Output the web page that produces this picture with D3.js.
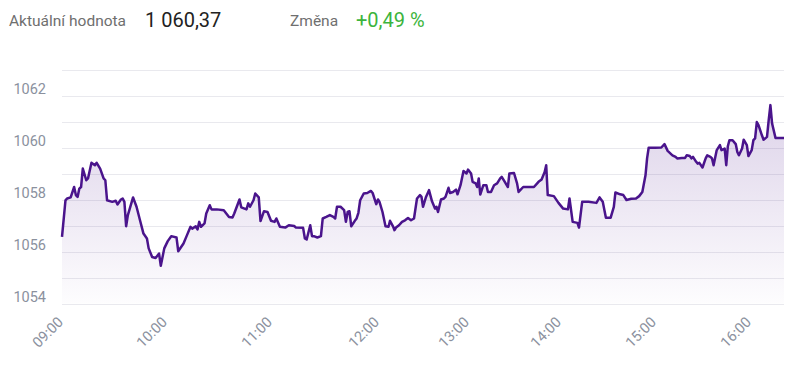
<!DOCTYPE html>
<html>
<head>
<meta charset="utf-8">
<script src="https://cdn.jsdelivr.net/npm/d3@7"></script>
<style>
  body { margin: 0; background: #fff; }
  svg { display: block; font-family: Roboto, "Open Sans", sans-serif; }
  .grid line { stroke: #e9e9ee; stroke-width: 1; }
  .ylab, .xlab { fill: #8b919e; font-size: 14.5px; }
</style>
</head>
<body>
<svg id="mainChart" width="800" height="367"></svg>
<script>
// header values
var currentLabel = "Aktuální hodnota";
var currentValue = "1 060,37";
var changeLabel = "Změna";
var changeValue = "+0,49 %";

// intraday series (time, index value)
var times = [
  "09:00","09:02","09:03","09:05","09:07","09:08","09:09","09:10","09:11","09:12","09:14","09:15","09:17","09:19","09:20","09:22","09:24","09:25","09:26","09:29","09:31","09:32","09:34","09:35","09:36","09:37","09:38","09:41","09:43","09:45","09:47","09:49","09:50","09:52","09:54","09:56","09:57","09:59",
  "10:01","10:03","10:06","10:07","10:10","10:12","10:14","10:15","10:17","10:18","10:19","10:20","10:22","10:23","10:25","10:26","10:29","10:33","10:36","10:38","10:39","10:42","10:43","10:46","10:47","10:48","10:50","10:51","10:53","10:54","10:56","10:58","11:00",
  "11:02","11:03","11:05","11:08","11:10","11:13","11:14","11:18","11:19","11:20","11:22","11:23","11:24","11:26","11:28","11:29","11:31","11:33","11:35","11:36","11:37","11:39","11:41","11:42","11:43","11:44","11:45","11:47","11:48","11:49","11:50","11:52","11:54","11:56","11:57","11:59","12:00",
  "12:01","12:03","12:05","12:07","12:08","12:10","12:11","12:12","12:14","12:16","12:18","12:20","12:22","12:24","12:26","12:28","12:29","12:30","12:32","12:34","12:36","12:38","12:39","12:40","12:42","12:44","12:45","12:47","12:48","12:50","12:52","12:53","12:55","12:57","12:59",
  "13:00","13:02","13:03","13:05","13:06","13:07","13:08","13:10","13:12","13:13","13:15","13:17","13:19","13:21","13:22","13:24","13:26","13:27","13:30","13:32","13:33","13:36","13:39","13:43","13:46","13:48","13:50","13:51","13:52","13:56","13:59",
  "14:02","14:05","14:06","14:08","14:11","14:12","14:14","14:18","14:23","14:25","14:27","14:29","14:32","14:34","14:35","14:38","14:40","14:42","14:45","14:48","14:50","14:52","14:54","14:55","14:56",
  "15:00","15:04","15:06","15:08","15:11","15:13","15:14","15:17","15:19","15:20","15:22","15:23","15:24","15:26","15:27","15:28","15:30","15:32","15:33","15:35","15:36","15:37","15:39","15:41","15:42","15:44","15:45","15:46","15:47","15:49","15:51","15:52","15:53","15:55","15:56","15:58","15:59",
  "16:01","16:02","16:03","16:04","16:05","16:07","16:08","16:10","16:11","16:12","16:13","16:15","16:20"
];
var values = [
  1056.56,1057.97,1058.04,1058.08,1058.48,1058.17,1058.10,1058.42,1058.48,1059.19,1058.74,1058.81,1059.41,1059.32,1059.41,1059.19,1058.81,1058.74,1057.97,1057.91,1057.95,1057.81,1058.00,1058.04,1057.91,1056.97,1057.40,1058.08,1057.72,1057.20,1056.69,1056.50,1056.12,1055.79,1055.75,1055.92,1055.45,1056.12,
  1056.40,1056.59,1056.54,1056.01,1056.31,1056.63,1056.95,1056.88,1056.97,1056.85,1057.14,1056.95,1057.08,1057.46,1057.78,1057.62,1057.62,1057.59,1057.33,1057.31,1057.46,1058.00,1057.70,1057.62,1057.85,1057.72,1057.97,1058.23,1058.08,1057.17,1057.55,1057.52,1057.18,
  1057.14,1057.27,1056.95,1056.92,1057.01,1056.98,1056.92,1056.91,1056.50,1056.46,1057.01,1056.59,1056.59,1056.54,1056.59,1057.27,1057.33,1057.40,1057.33,1057.27,1057.72,1057.72,1057.59,1057.14,1057.52,1057.55,1056.97,1057.18,1057.27,1057.49,1057.97,1058.23,1058.25,1058.33,1058.25,1057.82,1058.00,
  1057.91,1057.52,1056.97,1056.95,1057.18,1056.97,1056.82,1056.92,1057.01,1057.14,1057.20,1057.29,1057.20,1057.27,1058.04,1058.17,1058.10,1057.72,1058.10,1058.36,1057.93,1057.65,1057.72,1057.52,1058.00,1058.04,1058.10,1058.45,1058.25,1058.29,1058.38,1058.20,1058.55,1059.10,1059.00,
  1059.15,1059.00,1058.68,1058.62,1058.48,1058.81,1058.19,1058.55,1058.55,1058.29,1058.29,1058.55,1058.62,1058.81,1058.87,1058.68,1058.48,1059.00,1059.02,1058.62,1058.29,1058.48,1058.48,1058.48,1058.68,1058.77,1059.06,1059.32,1058.17,1058.13,1057.87,
  1057.65,1057.62,1058.04,1057.14,1057.10,1056.92,1057.91,1057.91,1057.87,1058.08,1057.91,1057.30,1057.30,1057.72,1058.27,1058.20,1058.17,1057.98,1058.03,1058.04,1058.13,1058.29,1058.93,1059.58,1059.99,
  1059.99,1060.00,1060.13,1059.87,1059.70,1059.64,1059.58,1059.60,1059.60,1059.70,1059.67,1059.58,1059.64,1059.45,1059.38,1059.41,1059.23,1059.58,1059.70,1059.64,1059.58,1059.32,1059.90,1060.09,1059.90,1059.96,1059.32,1060.05,1060.28,1060.28,1060.13,1059.83,1059.70,1059.96,1060.30,1060.09,1059.67,
  1059.90,1060.28,1060.35,1060.98,1060.86,1060.47,1060.30,1060.41,1061.05,1061.63,1060.92,1060.37,1060.37
];

var hourTicks = ["09:00","10:00","11:00","12:00","13:00","14:00","15:00","16:00"];
var sessionEnd = "16:20";
var yTicks = [1054, 1056, 1058, 1060, 1062];
var yDomain = [1054, 1063];

var parseTime = d3.timeParse("%H:%M");
var data = times.map(function(t, i) {
  return { date: parseTime(t), value: values[i] };
});

var svg = d3.select("#mainChart");

// header
var head = svg.append("g").attr("class", "header");
head.append("text").attr("x", 9).attr("y", 26).attr("fill", "#6f6f6f")
  .style("font-size", "15.5px").text(currentLabel);
head.append("text").attr("x", 145).attr("y", 27).attr("fill", "#222")
  .style("font-size", "20px").text(currentValue);
head.append("text").attr("x", 290).attr("y", 26).attr("fill", "#6f6f6f")
  .style("font-size", "15.5px").text(changeLabel);
head.append("text").attr("x", 356).attr("y", 27).attr("fill", "#3cb43c")
  .style("font-size", "20px").text(changeValue);

// ordinal-like time axis: each hour gets the width its trading points take
var x = d3.scaleTime()
  .domain(hourTicks.concat([sessionEnd]).map(parseTime))
  .range([62, 166, 271, 378, 468, 560, 655, 750, 784]);

var y = d3.scaleLinear()
  .domain(yDomain)
  .range([303.5, 69.5]);

var defs = svg.append("defs");
var grad = defs.append("linearGradient")
  .attr("id", "areaFill")
  .attr("gradientUnits", "userSpaceOnUse")
  .attr("x1", 0).attr("y1", y(yDomain[1]))
  .attr("x2", 0).attr("y2", y(yDomain[0]));
grad.append("stop").attr("offset", "0%").attr("stop-color", "#4a148c").attr("stop-opacity", 0.22);
grad.append("stop").attr("offset", "100%").attr("stop-color", "#4a148c").attr("stop-opacity", 0.01);

// horizontal grid every 1 point
svg.append("g")
  .attr("class", "grid")
  .selectAll("line")
  .data(d3.range(yDomain[0], yDomain[1] + 1))
  .enter()
  .append("line")
  .attr("x1", x.range()[0])
  .attr("x2", x.range()[x.range().length - 1])
  .attr("y1", function(d) { return Math.round(y(d)) + 0.5; })
  .attr("y2", function(d) { return Math.round(y(d)) + 0.5; });

// y labels sit just above their grid line
svg.append("g")
  .selectAll("text")
  .data(yTicks)
  .enter()
  .append("text")
  .attr("class", "ylab")
  .attr("x", 46)
  .attr("y", function(d) { return y(d) - 2; })
  .attr("text-anchor", "end")
  .text(function(d) { return d; });

// x labels, rotated
svg.append("g")
  .selectAll("text")
  .data(hourTicks)
  .enter()
  .append("text")
  .attr("class", "xlab")
  .attr("text-anchor", "end")
  .attr("transform", function(d) {
    return "translate(" + (x(parseTime(d)) + 2) + ",323) rotate(-45)";
  })
  .text(function(d) { return d; });

var area = d3.area()
  .x(function(d) { return x(d.date); })
  .y0(y(yDomain[0]))
  .y1(function(d) { return y(d.value); });

var line = d3.line()
  .x(function(d) { return x(d.date); })
  .y(function(d) { return y(d.value); });

svg.append("path")
  .datum(data)
  .attr("d", area)
  .attr("fill", "url(#areaFill)");

svg.append("path")
  .datum(data)
  .attr("d", line)
  .attr("fill", "none")
  .attr("stroke", "#4a148c")
  .attr("stroke-width", 2.5)
  .attr("stroke-linejoin", "round");
</script>
</body>
</html>
